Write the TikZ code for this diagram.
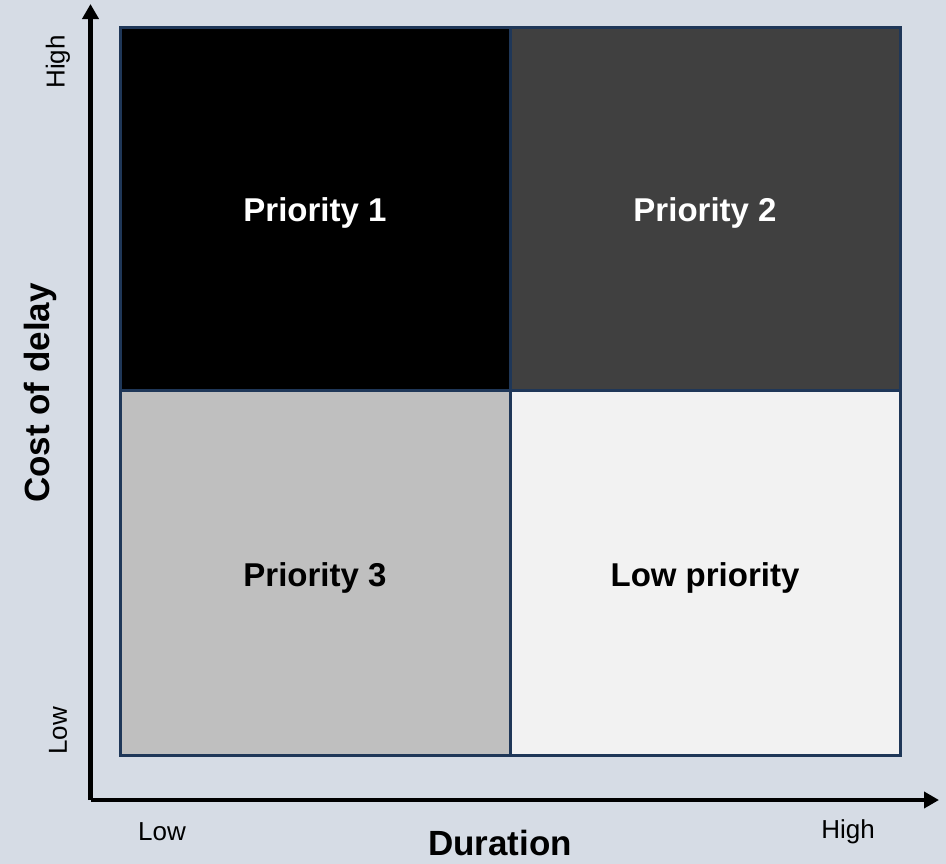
\documentclass[tikz,border=0pt]{standalone}
\usepackage{fontspec}
\setmainfont{Liberation Sans}
\usetikzlibrary{arrows.meta}
\definecolor{bgblue}{HTML}{D6DCE5}
\definecolor{edgeblue}{HTML}{1F3758}
\definecolor{darkcell}{HTML}{404040}
\definecolor{midcell}{HTML}{BFBFBF}
\definecolor{lightcell}{HTML}{F2F2F2}
\begin{document}
\begin{tikzpicture}[x=1bp,y=-1bp,
  cell/.style={draw=edgeblue,line width=3bp},
  celltext/.style={font=\fontsize{33bp}{40bp}\selectfont\bfseries},
  axis/.style={line width=4.5bp,-{Triangle[length=15bp,width=16bp]}},
  ticklabel/.style={font=\fontsize{26bp}{30bp}\selectfont},
  axistitle/.style={font=\fontsize{35bp}{40bp}\selectfont\bfseries}]
  % canvas
  \fill[bgblue] (0,0) rectangle (946,864);
  \useasboundingbox (0,0) rectangle (946,864);
  % quadrants
  \filldraw[cell,fill=black] (120,27) rectangle (510,390);
  \filldraw[cell,fill=darkcell] (510,27) rectangle (900,390);
  \filldraw[cell,fill=midcell] (120,390) rectangle (510,755);
  \filldraw[cell,fill=lightcell] (510,390) rectangle (900,755);
  \node[celltext,text=white] (p1) at (315,213) {Priority 1};
  \node[celltext,text=white] (p2) at (705,213) {Priority 2};
  \node[celltext] (p3) at (315,578) {Priority 3};
  \node[celltext] (lp) at (705,578) {Low priority};
  % axes
  \coordinate (origin) at (90.5,800);
  \coordinate (ytip) at (90.5,4);
  \coordinate (xtip) at (939,800);
  \draw[axis] (origin) -- (ytip);
  \draw[axis] (origin) -- (xtip);
  % axis labels
  \node[ticklabel] (xlow) at (162,832) {Low};
  \node[ticklabel] (xhigh) at (848,832) {High};
  \node[ticklabel,rotate=90] (ylow) at (58,731) {Low};
  \node[ticklabel,rotate=90] (yhigh) at (58,62) {High};
  \node[axistitle,inner sep=1bp] (xtitle) at (500,843) {Duration};
  \node[axistitle,rotate=90] (ytitle) at (40,393) {Cost of delay};
\end{tikzpicture}
\end{document}
